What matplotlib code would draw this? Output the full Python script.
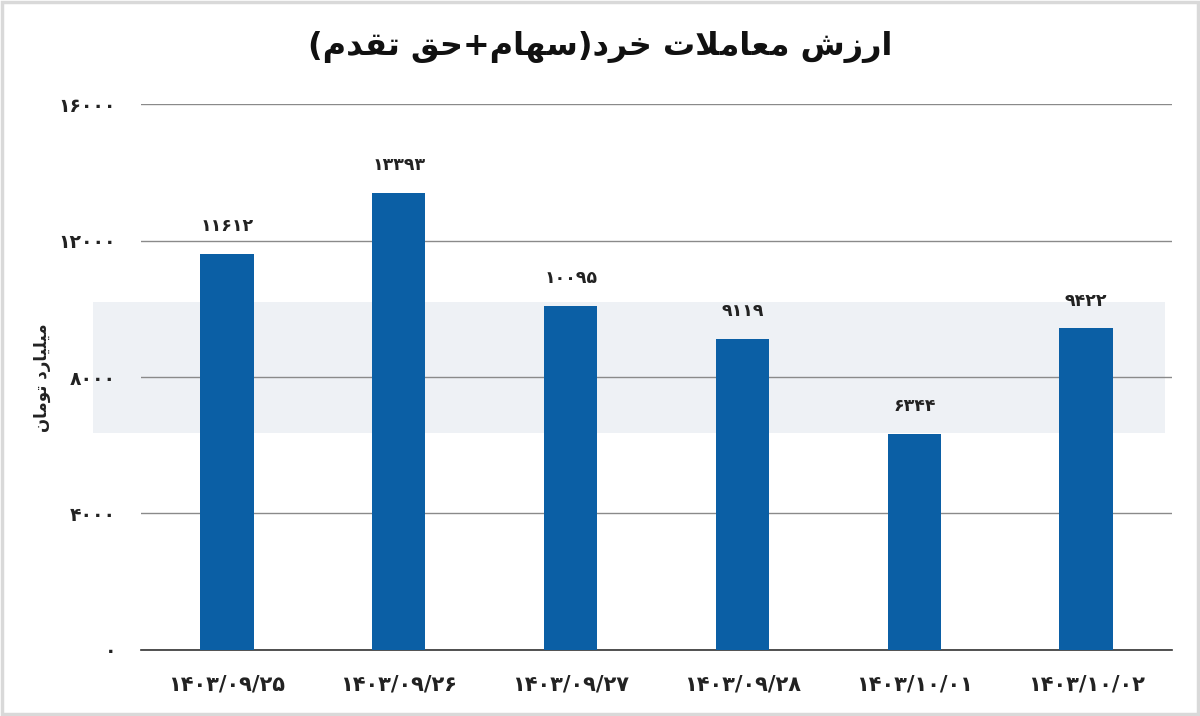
import matplotlib
matplotlib.use("Agg")
import matplotlib.pyplot as plt
from matplotlib.patches import Rectangle

# ---------------- data ----------------
categories = ["1403/09/25", "1403/09/26", "1403/09/27", "1403/09/28", "1403/10/01", "1403/10/02"]
values = [11612, 13393, 10095, 9119, 6344, 9422]
yticks = [0, 4000, 8000, 12000, 16000]
title_text = "ارزش معاملات خرد(سهام+حق تقدم)"
ylabel_text = "میلیارد تومان"

# ---------------- helpers ----------------
FA_DIGITS = str.maketrans("0123456789", "۰۱۲۳۴۵۶۷۸۹")


def fa(s):
    return str(s).translate(FA_DIGITS)


# presentation forms: (isolated, final, initial, medial); right-joining letters have 2
FORMS = {
    "ا": (0xFE8D, 0xFE8E), "د": (0xFEA9, 0xFEAA), "ر": (0xFEAD, 0xFEAE),
    "ز": (0xFEAF, 0xFEB0), "و": (0xFEED, 0xFEEE),
    "ب": (0xFE8F, 0xFE90, 0xFE91, 0xFE92), "ت": (0xFE95, 0xFE96, 0xFE97, 0xFE98),
    "ح": (0xFEA1, 0xFEA2, 0xFEA3, 0xFEA4), "خ": (0xFEA5, 0xFEA6, 0xFEA7, 0xFEA8),
    "س": (0xFEB1, 0xFEB2, 0xFEB3, 0xFEB4), "ش": (0xFEB5, 0xFEB6, 0xFEB7, 0xFEB8),
    "ع": (0xFEC9, 0xFECA, 0xFECB, 0xFECC), "ق": (0xFED5, 0xFED6, 0xFED7, 0xFED8),
    "ل": (0xFEDD, 0xFEDE, 0xFEDF, 0xFEE0), "م": (0xFEE1, 0xFEE2, 0xFEE3, 0xFEE4),
    "ن": (0xFEE5, 0xFEE6, 0xFEE7, 0xFEE8), "ه": (0xFEE9, 0xFEEA, 0xFEEB, 0xFEEC),
    "ی": (0xFBFC, 0xFBFD, 0xFBFE, 0xFBFF),
}


def shape(text):
    # merge lam-alef
    chars = []
    i = 0
    while i < len(text):
        if text[i] == "ل" and i + 1 < len(text) and text[i + 1] == "ا":
            chars.append("LA")
            i += 2
        else:
            chars.append(text[i])
            i += 1

    def dual(c):
        return c in FORMS and len(FORMS[c]) == 4

    def arabic(c):
        return c in FORMS or c == "LA"

    out = []
    for k, c in enumerate(chars):
        prev = chars[k - 1] if k > 0 else None
        nxt = chars[k + 1] if k + 1 < len(chars) else None
        jp = prev is not None and dual(prev)
        if c == "LA":
            out.append(chr(0xFEFC if jp else 0xFEFB))
            continue
        if c not in FORMS:
            out.append({"(": ")", ")": "("}.get(c, c))
            continue
        f = FORMS[c]
        jn = dual(c) and nxt is not None and arabic(nxt)
        if jp and jn:
            out.append(chr(f[3]))
        elif jp:
            out.append(chr(f[1]))
        elif jn:
            out.append(chr(f[2]))
        else:
            out.append(chr(f[0]))
    return "".join(reversed(out))


plt.rcParams["font.family"] = ["DejaVu Sans"]

fig = plt.figure(figsize=(12, 7.16), dpi=100)
ax = fig.add_axes([0.1175, 0.0922, 0.8592, 0.7625])
ax.set_zorder(2)

# watermark band (behind the axes)
fig.patches.append(Rectangle((93 / 1200, 1 - 433 / 716), (1165 - 93) / 1200, (433 - 302) / 716,
                             transform=fig.transFigure, facecolor="#eef1f5",
                             edgecolor="none", zorder=-10))
# frame
fig.patches.append(Rectangle((0.002, 0.003), 0.996, 0.994, transform=fig.transFigure,
                             facecolor="none", edgecolor="#d9d9d9", linewidth=2.5, zorder=5))

ax.set_facecolor("none")
x = list(range(len(categories)))
bars = ax.bar(x, values, width=0.31, color="#0b5fa5", zorder=3)
for xi, v in zip(x, values):
    ax.text(xi, v + 550, fa(v), ha="center", va="bottom", fontsize=12.5,
            fontweight="bold", color="#222222")

ax.set_xlim(-0.5, len(categories) - 0.5)
ax.set_ylim(0, 16000)
ax.set_yticks(yticks)
ax.set_yticklabels([fa(t) for t in yticks], fontsize=13.5, fontweight="bold", color="#222222")
ax.set_xticks(x)
ax.set_xticklabels([fa(c) for c in categories], fontsize=15, fontweight="bold", color="#222222")
ax.tick_params(axis="y", length=0, pad=18)
ax.tick_params(axis="x", length=0, pad=18)
ax.grid(axis="y", color="#8a8a8a", linewidth=1.0, zorder=1)
for s in ["top", "right", "left"]:
    ax.spines[s].set_visible(False)
ax.spines["bottom"].set_color("#333333")
ax.spines["bottom"].set_linewidth(1.2)

fig.text(0.035, 0.472, shape(ylabel_text), rotation=90, ha="center", va="center",
         fontsize=12, fontweight="bold", color="#222222", zorder=3)
fig.text(0.5, 0.935, shape(title_text), ha="center", va="center", fontsize=23,
         fontweight="bold", color="#111111")

fig.savefig("out.png", dpi=100)
